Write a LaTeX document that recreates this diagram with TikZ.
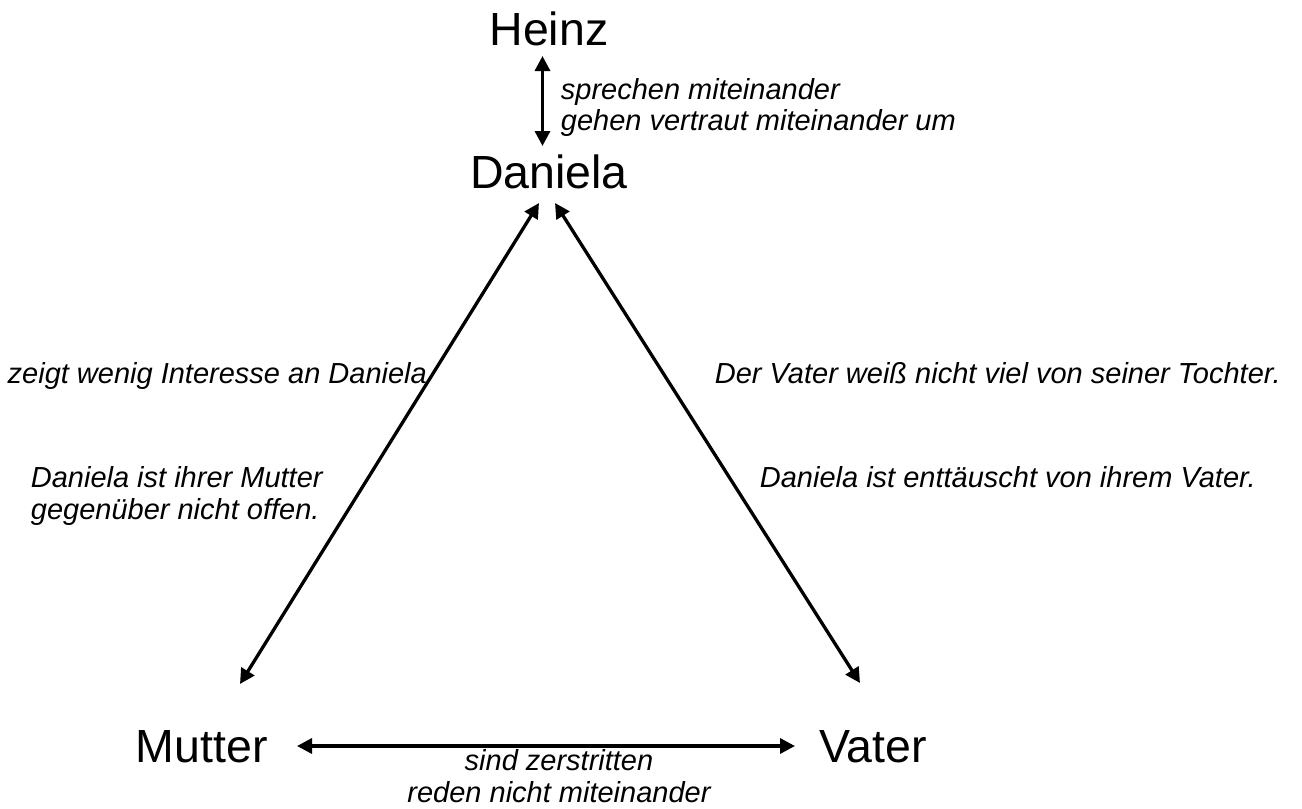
\documentclass[tikz,border=0pt]{standalone}
\usepackage{fontspec}
\setmainfont{Liberation Sans}
\usetikzlibrary{arrows.meta}
\begin{document}
\begin{tikzpicture}[x=1pt,y=-1pt,
  person/.style={inner sep=0pt, font=\fontsize{46.5}{50}\selectfont},
  lbl/.style={inner sep=0pt, font=\fontsize{29}{31.5}\selectfont\itshape},
  rel/.style={>={Triangle[length=15pt,width=15pt]}, <->, line width=3.3pt}]
\fill[white] (0,0) rectangle (1302,809);
\useasboundingbox (0,0) rectangle (1302,809);
% persons
\node[person, anchor=base] (heinz) at (549,45) {Heinz};
\node[person, anchor=base] (daniela) at (549,188.3) {Daniela};
\node[person, anchor=base west] (mutter) at (135.6,762) {Mutter};
\node[person, anchor=base west] (vater) at (819,762) {Vater};
% arrow end points
\coordinate (hT) at (542.5,56);
\coordinate (dT) at (542.5,146);
\coordinate (dL) at (539,203);
\coordinate (mT) at (240,684);
\coordinate (dR) at (555,203);
\coordinate (vT) at (860,683);
\coordinate (mR) at (297,746);
\coordinate (vL) at (795,746);
% connectors
\draw[rel] (hT) -- (dT);
\draw[rel] (dL) -- (mT);
\draw[rel] (dR) -- (vT);
\draw[rel] (mR) -- (vL);
% labels (base anchor = baseline of the last line)
\node[lbl, anchor=base west, align=left] (lhd) at (560.7,130.5) {sprechen miteinander\\gehen vertraut miteinander um};
\node[lbl, anchor=base west] (lmd1) at (7.5,383.3) {zeigt wenig Interesse an Daniela};
\node[lbl, anchor=base west, align=left] (lmd2) at (30.7,519.2) {Daniela ist ihrer Mutter\\gegenüber nicht offen.};
\node[lbl, anchor=base west] (lvd1) at (714.7,383) {Der Vater weiß nicht viel von seiner Tochter.};
\node[lbl, anchor=base west] (lvd2) at (759.7,487) {Daniela ist enttäuscht von ihrem Vater.};
\node[lbl, anchor=base, align=center] (lmv) at (559,802) {sind zerstritten\\reden nicht miteinander};
\end{tikzpicture}
\end{document}
